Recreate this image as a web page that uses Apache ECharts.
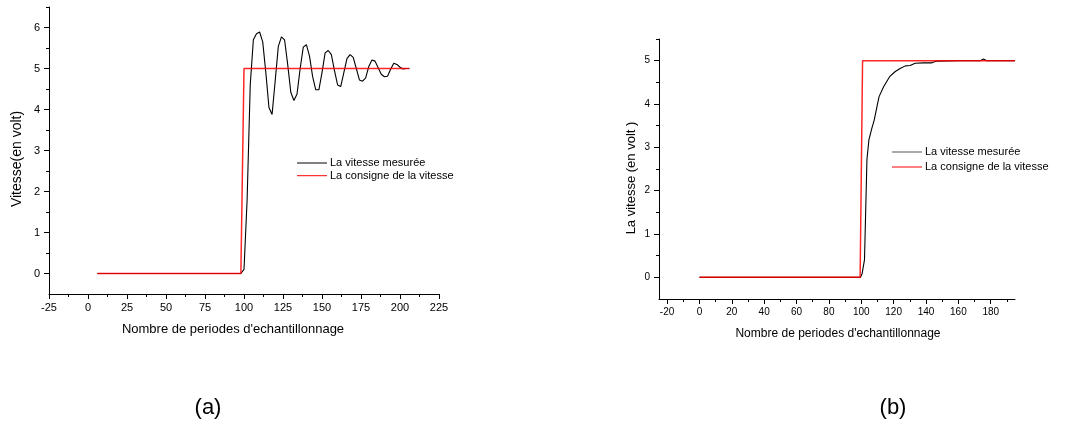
<!DOCTYPE html>
<html>
<head>
<meta charset="utf-8">
<script src="https://cdn.jsdelivr.net/npm/echarts@6/dist/echarts.min.js"></script>
<style>
  html, body { margin: 0; padding: 0; background: #fff; }
  #chart { width: 1065px; height: 428px; }
</style>
</head>
<body>
<div id="chart"></div>
<script>
// (a) sortie mesurée / consigne
var measA_x = [6, 98, 100, 102, 104, 106, 108, 110, 112, 114, 116, 118, 120, 122, 124, 126, 128, 130, 132, 134, 136, 138, 140, 142, 144, 146, 148, 150, 152, 154, 156, 158, 160, 162, 164, 166, 168, 170, 172, 174, 176, 178, 180, 182, 184, 186, 188, 190, 192, 194, 196, 198, 200, 202, 204, 206];
var measA_y = [0, 0, 0.1, 1.8, 4.6, 5.7, 5.85, 5.89, 5.65, 4.9, 4.05, 3.88, 4.7, 5.54, 5.77, 5.7, 5.1, 4.42, 4.22, 4.38, 5.0, 5.52, 5.58, 5.3, 4.8, 4.48, 4.48, 4.9, 5.38, 5.44, 5.34, 4.95, 4.6, 4.56, 4.9, 5.24, 5.34, 5.27, 5.0, 4.72, 4.69, 4.77, 5.05, 5.21, 5.18, 5.02, 4.86, 4.8, 4.81, 4.98, 5.13, 5.1, 5.03, 4.99, 5.0, 5.0];
var consA_x = [6, 98, 100, 206];
var consA_y = [0, 0, 5, 5];

// (b)
var measB_x = [0, 99.5, 100.5, 102, 103.5, 104.7, 106.6, 108, 109.7, 111, 113.8, 117.5, 121, 124, 127.2, 130.2, 133.3, 138.5, 143.6, 146.7, 160, 173.5, 175.5, 177.5, 195];
var measB_y = [0, 0, 0.08, 0.41, 2.71, 3.17, 3.45, 3.63, 3.94, 4.17, 4.4, 4.63, 4.75, 4.82, 4.88, 4.89, 4.94, 4.95, 4.95, 4.99, 5.0, 5.0, 5.04, 5.0, 5.0];
var consB_x = [0, 99.3, 100.8, 195];
var consB_y = [0, 0, 5, 5];

var ticksA_y = [0, 1, 2, 3, 4, 5, 6];
var minorA_y = [0.5, 1.5, 2.5, 3.5, 4.5, 5.5, 6.5];
var ticksB_x = [-20, 0, 20, 40, 60, 80, 100, 120, 140, 160, 180];
var minorB_x = [-10, 10, 30, 50, 70, 90, 110, 130, 150, 170, 190];
var ticksB_y = [0, 1, 2, 3, 4, 5];
var minorB_y = [0.5, 1.5, 2.5, 3.5, 4.5, 5.5];

var nameMeas = 'La vitesse mesurée';
var nameCons = 'La consigne de la vitesse';

function pairs(xs, ys) {
    return xs.map(function (x, i) { return [x, ys[i]]; });
}

var font = 'Liberation Sans, Arial, sans-serif';

function baseAxis(grid, min, max, pos) {
    return {
        type: 'value', gridIndex: grid, min: min, max: max, position: pos,
        axisLine: { show: true, onZero: false, lineStyle: { color: '#000', width: 1 } },
        axisTick: { show: true, length: 5, lineStyle: { color: '#000' } },
        axisLabel: { color: '#000', fontFamily: font, fontSize: 11, margin: 8 },
        splitLine: { show: false }
    };
}

function minorAxis(grid, min, max, pos, vals) {
    return {
        type: 'value', gridIndex: grid, min: min, max: max, position: pos, offset: 0,
        axisLine: { show: false, onZero: false },
        axisTick: { show: true, length: 3, customValues: vals, lineStyle: { color: '#000' } },
        axisLabel: { show: false },
        splitLine: { show: false }
    };
}

var xA = baseAxis(0, -25, 225, 'bottom');
xA.interval = 25;
xA.minorTick = { show: true, splitNumber: 2, length: 3, lineStyle: { color: '#000' } };

var yA = baseAxis(0, -0.5, 6.5, 'left');
yA.axisLabel.customValues = ticksA_y;
yA.axisTick.customValues = ticksA_y;
yA.axisLabel.margin = 9;

var xB = baseAxis(1, -25, 195, 'bottom');
xB.axisLabel.customValues = ticksB_x;
xB.axisTick.customValues = ticksB_x;
xB.axisLabel.fontSize = 10;

var yB = baseAxis(1, -0.5, 5.5, 'left');
yB.axisLabel.customValues = ticksB_y;
yB.axisTick.customValues = ticksB_y;
yB.axisLabel.fontSize = 10;
yB.axisLabel.margin = 9;

var lineIcon = 'path://M0,0 L30,0 L30,1 L0,1 Z';

function legendAt(left, top, gap, mColor) {
    return {
        left: left, top: top, orient: 'vertical', padding: 0,
        itemWidth: 30, itemHeight: 1.5, itemGap: gap,
        textStyle: { color: '#000', fontFamily: font, fontSize: 11, lineHeight: 12, padding: [0, 0, 0, -2] },
        data: [
            { name: nameMeas, icon: lineIcon, itemStyle: { color: mColor } },
            { name: nameCons, icon: lineIcon, itemStyle: { color: '#ff0000' } }
        ]
    };
}

function txt(x, y, s, size, rot) {
    return {
        type: 'text', x: x, y: y, rotation: rot || 0,
        style: { text: s, fill: '#000', font: size + 'px ' + font, align: 'center', verticalAlign: 'middle' }
    };
}

var chart = echarts.init(document.getElementById('chart'));

chart.setOption({
    animation: false,
    grid: [
        { left: 49, top: 7, width: 390, height: 287 },
        { left: 659, top: 39, width: 356, height: 260 }
    ],
    xAxis: [xA, xB,
        minorAxis(1, -25, 195, 'bottom', minorB_x)],
    yAxis: [yA, yB,
        minorAxis(0, -0.5, 6.5, 'left', minorA_y),
        minorAxis(1, -0.5, 5.5, 'left', minorB_y)],
    legend: [legendAt(297, 157, 0.7, '#000'), legendAt(892, 146, 3, '#555')],
    series: [
        { name: nameMeas, type: 'line', xAxisIndex: 0, yAxisIndex: 0, data: pairs(measA_x, measA_y),
          symbol: 'none', lineStyle: { color: '#000', width: 1.1 }, itemStyle: { color: '#000' } },
        { name: nameCons, type: 'line', xAxisIndex: 0, yAxisIndex: 0, data: pairs(consA_x, consA_y),
          symbol: 'none', lineStyle: { color: '#ff0000', width: 1.5, opacity: 0.85 }, itemStyle: { color: '#ff0000' } },
        { name: nameMeas, type: 'line', xAxisIndex: 1, yAxisIndex: 1, data: pairs(measB_x, measB_y),
          symbol: 'none', lineStyle: { color: '#000', width: 1.1 }, itemStyle: { color: '#000' } },
        { name: nameCons, type: 'line', xAxisIndex: 1, yAxisIndex: 1, data: pairs(consB_x, consB_y),
          symbol: 'none', lineStyle: { color: '#ff0000', width: 1.5, opacity: 0.85 }, itemStyle: { color: '#ff0000' } }
    ],
    graphic: [
        txt(17, 159, 'Vitesse(en volt)', 14, Math.PI / 2),
        txt(233, 329, "Nombre de periodes d'echantillonnage", 13),
        txt(631, 178, 'La vitesse (en volt )', 13, Math.PI / 2),
        txt(838, 334, "Nombre de periodes d'echantillonnage", 12),
        txt(208, 408, '(a)', 22),
        txt(893, 408, '(b)', 22)
    ]
});
</script>
</body>
</html>
